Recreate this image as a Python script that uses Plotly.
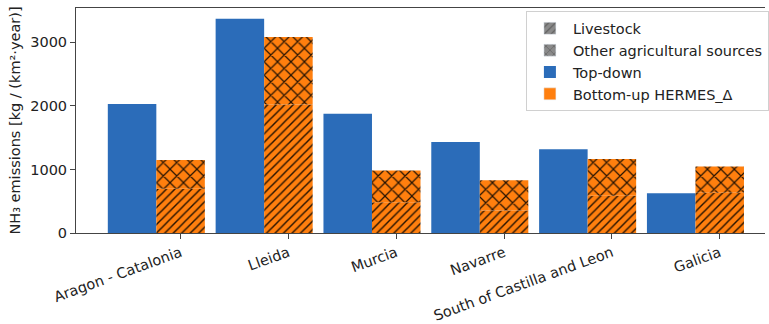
import plotly.graph_objects as go

# Regional NH3 emission estimates
regions = ["Aragon - Catalonia", "Lleida", "Murcia", "Navarre",
           "South of Castilla and Leon", "Galicia"]
top_down = [2030, 3370, 1877, 1431, 1318, 626]
bottom_up_total = [1149, 3082, 985, 831, 1164, 1046]
livestock = [697, 2020, 482, 354, 585, 635]
other_agri = [t - l for t, l in zip(bottom_up_total, livestock)]
y_ticks = [0, 1000, 2000, 3000]

BLUE = "#2b6cb9"
ORANGE = "#ff7f0e"
FONT = "DejaVu Sans"
FS = 14.5
BAR_W = 0.45

xs = list(range(len(regions)))

fig = go.Figure()

# legend-only entries for the hatch meanings
fig.add_trace(go.Bar(
    x=[None], y=[None], name="Livestock", legendgroup="a",
    marker=dict(color="#8a8a8a",
                pattern=dict(shape="/", size=6, solidity=0.25,
                             fgcolor="#333333")),
))
fig.add_trace(go.Bar(
    x=[None], y=[None], name="Other agricultural sources", legendgroup="b",
    marker=dict(color="#8a8a8a",
                pattern=dict(shape="x", size=7, solidity=0.22,
                             fgcolor="#333333")),
))

# top-down estimate
fig.add_trace(go.Bar(
    x=xs, y=top_down, name="Top-down", legendgroup="c",
    width=BAR_W, offset=-1.5 * BAR_W,
    marker=dict(color=BLUE, line=dict(width=0)),
))

fig.add_trace(go.Bar(
    x=[None], y=[None], name="Bottom-up HERMES_Δ", legendgroup="d",
    marker=dict(color=ORANGE),
))

# bottom-up estimate, split into livestock and other sources
fig.add_trace(go.Bar(
    x=xs, y=livestock, showlegend=False, legendgroup="d",
    width=BAR_W, offset=-0.5 * BAR_W,
    marker=dict(color=ORANGE, line=dict(width=0),
                pattern=dict(shape="/", size=6, solidity=0.24,
                             fgcolor="#000000", fgopacity=0.85)),
))
fig.add_trace(go.Bar(
    x=xs, y=other_agri, base=livestock, showlegend=False, legendgroup="d",
    width=BAR_W, offset=-0.5 * BAR_W,
    marker=dict(color=ORANGE, line=dict(width=0),
                pattern=dict(shape="x", size=9.5, solidity=0.24,
                             fgcolor="#000000", fgopacity=0.85)),
))

fig.update_layout(
    width=769, height=324,
    margin=dict(l=76, r=0, t=8, b=86),
    barmode="overlay",
    plot_bgcolor="white", paper_bgcolor="white",
    font=dict(family=FONT, size=FS, color="#222222"),
    legend=dict(
        x=0.653, y=0.985, xanchor="left", yanchor="top",
        bgcolor="rgba(255,255,255,0.85)", bordercolor="#d0d0d0",
        borderwidth=1, font=dict(size=FS), tracegroupgap=0,
        traceorder="grouped", itemwidth=36,
    ),
    xaxis=dict(
        range=[-0.97, 5.42], tickvals=xs, ticktext=regions,
        tickangle=-20, showgrid=False, zeroline=False,
        showline=True, linecolor="#444444", linewidth=1, mirror=True,
        ticks="outside", ticklen=5, tickcolor="#444444",
        tickfont=dict(size=FS),
    ),
    yaxis=dict(
        range=[0, 3540], tickvals=y_ticks, showgrid=False, zeroline=False,
        showline=True, linecolor="#444444", linewidth=1,
        ticks="outside", ticklen=5, tickcolor="#444444",
        tickfont=dict(size=FS),
        title=dict(text="NH₃ emissions [kg / (km²·year)]",
                   font=dict(size=FS), standoff=6),
    ),
)

fig.write_html("out.html")
